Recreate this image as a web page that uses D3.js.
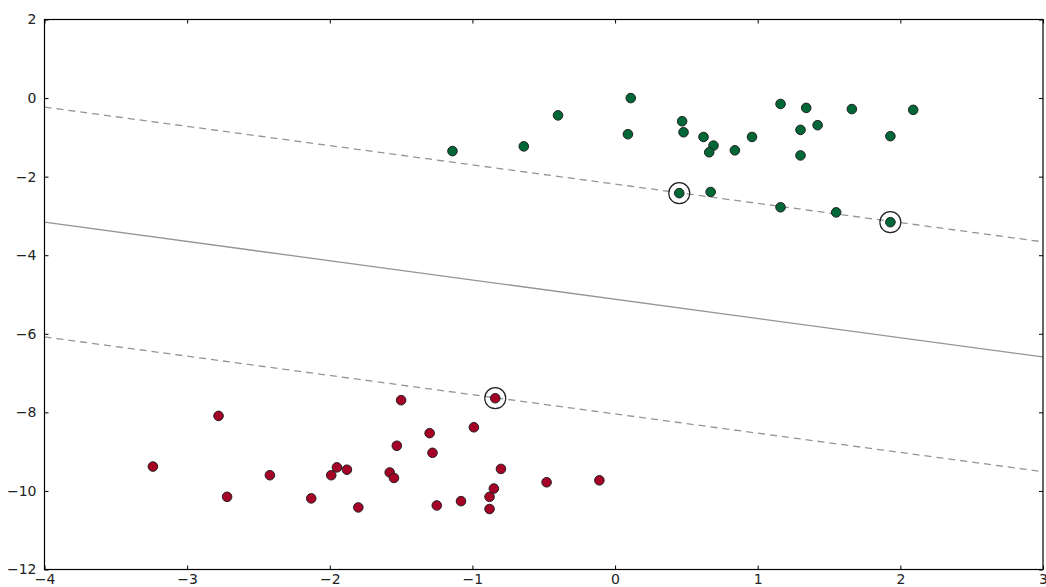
<!DOCTYPE html>
<html>
<head>
<meta charset="utf-8">
<script src="https://cdn.jsdelivr.net/npm/d3@7"></script>
<style>
  body { margin: 0; background: #fff; }
  svg { display: block; }
  text { font-family: "DejaVu Sans", sans-serif; font-size: 14px; fill: #222; }
</style>
</head>
<body>
<div id="plot"></div>
<script>
// class 1 (green, top cluster)
const greenX = [-1.14, -0.64, -0.40, 0.11, 0.09, 0.47, 0.48, 0.62, 0.69, 0.66, 0.84, 0.96, 1.16, 1.34, 1.66, 2.09, 1.42, 1.30, 1.30, 1.93, 0.45, 0.67, 1.16, 1.55, 1.93];
const greenY = [-1.35, -1.23, -0.44, 0.00, -0.92, -0.59, -0.87, -0.99, -1.21, -1.38, -1.33, -0.99, -0.15, -0.25, -0.28, -0.30, -0.69, -0.81, -1.46, -0.97, -2.42, -2.39, -2.78, -2.91, -3.16];
// class 0 (red, bottom cluster)
const redX = [-3.24, -2.78, -2.72, -2.42, -2.13, -1.99, -1.95, -1.88, -1.80, -1.58, -1.55, -1.53, -1.50, -1.30, -1.28, -1.25, -1.08, -0.99, -0.88, -0.88, -0.85, -0.84, -0.80, -0.48, -0.11];
const redY = [-9.38, -8.09, -10.15, -9.60, -10.19, -9.60, -9.40, -9.46, -10.42, -9.53, -9.67, -8.85, -7.69, -8.53, -9.03, -10.37, -10.26, -8.38, -10.15, -10.46, -9.94, -7.64, -9.44, -9.78, -9.73];
// support vectors
const svX = [0.45, 1.93, -0.84];
const svY = [-2.42, -3.16, -7.64];
// separating hyperplane y = slope * x + intercept, and its margins
const slope = -0.49;
const intercepts = [-2.19, -5.12, -8.04];
const lineStyles = ["dashed", "solid", "dashed"];

const xTicks = [-4, -3, -2, -1, 0, 1, 2, 3];
const yTicks = [2, 0, -2, -4, -6, -8, -10, -12];

const width = 1046, height = 587;
const margin = { top: 19.5, right: 3, bottom: 17.5, left: 44.5 };

const svg = d3.select("#plot").append("svg").attr("width", width).attr("height", height);

const x = d3.scaleLinear().domain([-4, 3]).range([margin.left, width - margin.right]);
const y = d3.scaleLinear().domain([-12, 2]).range([height - margin.bottom, margin.top]);

svg.append("clipPath").attr("id", "clip")
  .append("rect").attr("x", x(-4)).attr("y", y(2)).attr("width", x(3) - x(-4)).attr("height", y(-12) - y(2));

const plot = svg.append("g").attr("clip-path", "url(#clip)");

// hyperplane lines
plot.selectAll("line.hp").data(intercepts).join("line")
  .attr("class", "hp")
  .attr("x1", x(-4)).attr("x2", x(3))
  .attr("y1", d => y(slope * -4 + d))
  .attr("y2", d => y(slope * 3 + d))
  .attr("stroke", "#000").attr("stroke-opacity", 0.42).attr("stroke-width", 1.3)
  .attr("stroke-dasharray", (d, i) => lineStyles[i] === "dashed" ? "7,5" : null);

// points
const drawPoints = (xs, ys, color) => {
  plot.append("g").selectAll("circle").data(xs.map((v, i) => [v, ys[i]])).join("circle")
    .attr("cx", d => x(d[0])).attr("cy", d => y(d[1]))
    .attr("r", 4.8)
    .attr("fill", color).attr("stroke", "#222").attr("stroke-width", 1);
};
drawPoints(redX, redY, "#a50026");
drawPoints(greenX, greenY, "#006837");

// support vector rings
plot.append("g").selectAll("circle").data(svX.map((v, i) => [v, svY[i]])).join("circle")
  .attr("cx", d => x(d[0])).attr("cy", d => y(d[1]))
  .attr("r", 10.5)
  .attr("fill", "none").attr("stroke", "#222").attr("stroke-width", 1.2);

// frame
svg.append("rect").attr("x", x(-4)).attr("y", y(2)).attr("width", x(3) - x(-4)).attr("height", y(-12) - y(2))
  .attr("fill", "none").attr("stroke", "#000").attr("stroke-width", 1.2);

// axes with inward ticks on all sides
svg.append("g").attr("transform", `translate(0,${y(-12)})`)
  .call(d3.axisBottom(x).tickValues(xTicks).tickSize(-4).tickPadding(5).tickFormat(d3.format("d")))
  .call(g => g.select(".domain").remove());
svg.append("g").attr("transform", `translate(0,${y(2)})`)
  .call(d3.axisTop(x).tickValues(xTicks).tickSize(-4).tickFormat(""))
  .call(g => g.select(".domain").remove());
svg.append("g").attr("transform", `translate(${x(-4)},0)`)
  .call(d3.axisLeft(y).tickValues(yTicks).tickSize(-4).tickPadding(8).tickFormat(d3.format("d")))
  .call(g => g.select(".domain").remove());
svg.append("g").attr("transform", `translate(${x(3)},0)`)
  .call(d3.axisRight(y).tickValues(yTicks).tickSize(-4).tickFormat(""))
  .call(g => g.select(".domain").remove());

svg.selectAll(".tick line").attr("stroke", "#000");
svg.selectAll(".tick text").attr("fill", "#222").style("font-size", "14px").style("font-family", "DejaVu Sans, sans-serif");
</script>
</body>
</html>
